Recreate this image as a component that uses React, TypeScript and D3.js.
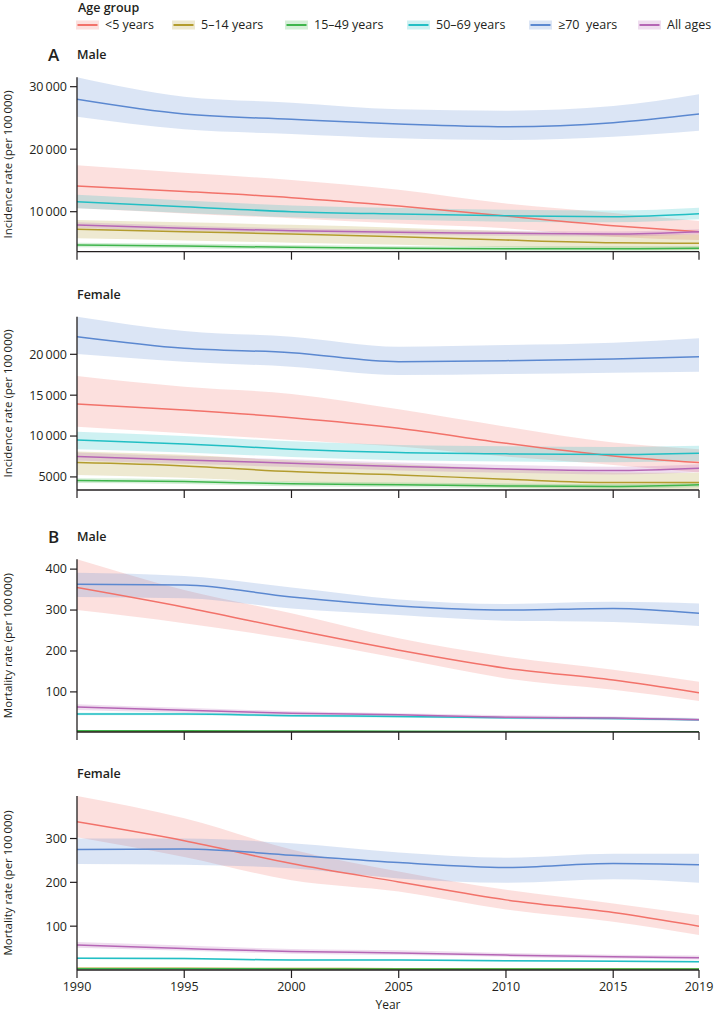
import React from "react";
import * as d3 from "d3";

const years = [1990, 1995, 2000, 2005, 2010, 2015, 2019];
const xTicks = [1990, 1995, 2000, 2005, 2010, 2015, 2019];
const groups = ["<5 years", "5–14 years", "15–49 years", "50–69 years", "≥70  years", "All ages"];
const colors = ["#f2726a", "#b39c2e", "#3fb54c", "#22bfc4", "#5b88d0", "#b566b5"];

// Incidence, male
const incMale = [
  { g: 0, mean: [14110, 13250, 12250, 10900, 9310, 7760, 6800], lo: [10540, 9730, 8940, 8100, 7340, 6000, 5470], hi: [17420, 16240, 15070, 13500, 11300, 9800, 8510] },
  { g: 1, mean: [7180, 6800, 6430, 6000, 5470, 5040, 4940], lo: [5750, 5400, 5050, 4700, 4300, 4000, 3900], hi: [8670, 8300, 7900, 7450, 6900, 6450, 6350] },
  { g: 2, mean: [4670, 4510, 4300, 4140, 4080, 4080, 4140], lo: [4300, 4150, 3950, 3800, 3740, 3740, 3800], hi: [5050, 4900, 4680, 4520, 4460, 4460, 4520] },
  { g: 3, mean: [11600, 10800, 10000, 9630, 9360, 9200, 9680], lo: [10550, 9800, 9100, 8700, 8400, 8300, 8780], hi: [12700, 11800, 11000, 10600, 10300, 10200, 10640] },
  { g: 4, mean: [28000, 25630, 24780, 24030, 23600, 24240, 25630], lo: [25200, 23180, 22430, 21740, 21470, 22000, 22960], hi: [31500, 28400, 27440, 26380, 26160, 26900, 28780] },
  { g: 5, mean: [7870, 7340, 6960, 6700, 6540, 6430, 6800], lo: [7450, 6950, 6580, 6320, 6150, 6050, 6400], hi: [8300, 7750, 7350, 7100, 6950, 6850, 7200] },
];

// Incidence, female
const incFemale = [
  { g: 0, mean: [13930, 13190, 12250, 10960, 9120, 7570, 6750], lo: [11150, 10350, 9530, 8710, 7490, 6470, 5530], hi: [17350, 16040, 15150, 13280, 11150, 9200, 8390] },
  { g: 1, mean: [6750, 6350, 5650, 5250, 4720, 4310, 4310], lo: [5250, 4900, 4350, 4050, 3700, 3500, 3500], hi: [8100, 7700, 7000, 6550, 6000, 5550, 5500] },
  { g: 2, mean: [4550, 4430, 4150, 4030, 3900, 3820, 4030], lo: [4250, 4130, 3850, 3730, 3600, 3550, 3730], hi: [4850, 4730, 4450, 4330, 4200, 4120, 4330] },
  { g: 3, mean: [9530, 9040, 8390, 7980, 7820, 7730, 7900], lo: [8390, 8000, 7450, 7050, 6900, 6800, 6950], hi: [10540, 10000, 9350, 8900, 8750, 8650, 8800] },
  { g: 4, mean: [22150, 20730, 20200, 19100, 19220, 19430, 19710], lo: [20040, 19100, 18480, 17470, 17590, 17750, 17870], hi: [24600, 22850, 22150, 20930, 21140, 21420, 21960] },
  { g: 5, mean: [7490, 7080, 6680, 6270, 5980, 5780, 6070], lo: [7000, 6600, 6200, 5800, 5500, 5300, 5600], hi: [8000, 7550, 7150, 6750, 6450, 6250, 6550] },
];

// Mortality, male
const morMale = [
  { g: 0, mean: [355, 307, 253, 202, 158, 129, 98], lo: [300, 268, 229, 182, 133, 105, 78], hi: [424, 349, 292, 231, 186, 154, 125] },
  { g: 1, mean: [3, 3, 2.5, 2.5, 2, 2, 2], lo: [2.2, 2.2, 2, 2, 2, 2, 2], hi: [3.8, 3.8, 3.3, 3.2, 2.8, 2.7, 2.7] },
  { g: 2, mean: [5, 5, 4.5, 4, 3, 2.5, 2.5], lo: [4, 4, 3.6, 3.2, 2.4, 2, 2], hi: [6, 6, 5.4, 4.8, 3.6, 3, 3] },
  { g: 3, mean: [46, 46, 42, 40, 37, 35, 32], lo: [43, 43, 39, 37, 34, 32, 29], hi: [49, 49, 45, 43, 40, 38, 35] },
  { g: 4, mean: [363, 361, 332, 310, 300, 304, 292], lo: [332, 329, 304, 288, 274, 271, 261], hi: [391, 383, 355, 326, 315, 320, 316] },
  { g: 5, mean: [63, 55, 48, 44, 38, 36, 32], lo: [56, 49, 43, 39, 34, 32, 29], hi: [70, 61, 53, 48, 43, 40, 36] },
];

// Mortality, female
const morFemale = [
  { g: 0, mean: [338, 295, 243, 201, 160, 131, 100], lo: [303, 258, 205, 179, 138, 110, 80], hi: [397, 346, 275, 225, 183, 152, 125] },
  { g: 1, mean: [4, 4, 3.5, 3, 2.5, 2, 2], lo: [3.2, 3.2, 2.8, 2.3, 1.8, 1.4, 1.4], hi: [4.8, 4.8, 4.2, 3.7, 3.2, 2.6, 2.6] },
  { g: 2, mean: [3, 3, 2.5, 2, 2, 2, 2], lo: [2.4, 2.4, 2, 1.6, 1.6, 1.6, 1.6], hi: [3.6, 3.6, 3, 2.4, 2.4, 2.4, 2.4] },
  { g: 3, mean: [27, 26, 23, 23, 21, 20, 19], lo: [25, 24, 21, 21, 19, 18, 17], hi: [29, 28, 25, 25, 23, 22, 21] },
  { g: 4, mean: [275, 276, 262, 245, 234, 243, 240], lo: [242, 240, 232, 209, 199, 207, 199], hi: [300, 300, 289, 268, 256, 265, 265] },
  { g: 5, mean: [57, 49, 42, 39, 34, 30, 28], lo: [51, 44, 37, 34, 30, 26, 24], hi: [64, 56, 48, 45, 39, 35, 33] },
];

const panels = [
  { letter: "A", title: "Male", data: incMale, domain: [3600, 31500], top: 77.3, bottom: 251.7, ticks: [10000, 20000, 30000], ylabel: "Incidence rate (per 100\u2009000)", xlabels: false },
  { letter: "", title: "Female", data: incFemale, domain: [3400, 24600], top: 316.7, bottom: 490, ticks: [5000, 10000, 15000, 20000], ylabel: "Incidence rate (per 100\u2009000)", xlabels: false },
  { letter: "B", title: "Male", data: morMale, domain: [2, 424], top: 559.3, bottom: 732, ticks: [100, 200, 300, 400], ylabel: "Mortality rate (per 100\u2009000)", xlabels: false },
  { letter: "", title: "Female", data: morFemale, domain: [0, 397], top: 796, bottom: 970, ticks: [100, 200, 300], ylabel: "Mortality rate (per 100\u2009000)", xlabels: true },
];

const FONT = "'Open Sans', 'Noto Sans', sans-serif";
const AXIS = "#231f20";
const X0 = 77;
const X1 = 699;

function fmt(v: number) {
  if (v >= 10000) {
    const s = String(v);
    return s.slice(0, s.length - 3) + "\u2009" + s.slice(s.length - 3);
  }
  return String(v);
}

function Panel({ p }: { p: any }) {
  const x = d3.scaleLinear().domain([1990, 2019]).range([X0, X1]);
  const y = d3.scaleLinear().domain(p.domain).range([p.bottom, p.top]);
  const clipId = "clip" + Math.round(p.top);
  const area = (s: any) =>
    d3
      .area<number>()
      .x((_, i) => x(years[i]))
      .y0((_, i) => y(s.lo[i]))
      .y1((_, i) => y(s.hi[i]))
      .curve(d3.curveMonotoneX)(s.mean) || "";
  const line = (s: any) =>
    d3
      .line<number>()
      .x((_, i) => x(years[i]))
      .y((d) => y(d))
      .curve(d3.curveMonotoneX)(s.mean) || "";
  const midY = (p.top + p.bottom) / 2;
  return (
    <g>
      <defs>
        <clipPath id={clipId}>
          <rect x={X0} y={p.top - 2} width={X1 - X0} height={p.bottom - p.top + 2} />
        </clipPath>
      </defs>
      {p.letter && (
        <text x={48} y={p.top - 16} fontFamily={FONT} fontSize={17} fontWeight={600} fill={AXIS}>
          {p.letter}
        </text>
      )}
      <text x={X0} y={p.top - 18} fontFamily={FONT} fontSize={12.5} fontWeight={600} fill={AXIS}>
        {p.title}
      </text>
      <g clipPath={`url(#${clipId})`}>
        {p.data.map((s: any) => (
          <path key={"a" + s.g} d={area(s)} fill={colors[s.g]} fillOpacity={0.22} stroke="none" />
        ))}
        {p.data.map((s: any) => (
          <path key={"l" + s.g} d={line(s)} fill="none" stroke={colors[s.g]} strokeWidth={1.5} />
        ))}
      </g>
      <line x1={X0} x2={X0} y1={p.top} y2={p.bottom} stroke={AXIS} strokeWidth={1.3} />
      <line x1={X0} x2={X1} y1={p.bottom} y2={p.bottom} stroke={AXIS} strokeWidth={1.3} />
      {p.ticks.map((t: number) => (
        <g key={t}>
          <line x1={X0 - 7} x2={X0} y1={y(t)} y2={y(t)} stroke={AXIS} strokeWidth={1.2} />
          <text x={X0 - 10} y={y(t)} dy="0.35em" textAnchor="end" fontFamily={FONT} fontSize={12.5} fill={AXIS}>
            {fmt(t)}
          </text>
        </g>
      ))}
      {xTicks.map((t) => (
        <g key={t}>
          <line x1={x(t)} x2={x(t)} y1={p.bottom} y2={p.bottom + 8} stroke={AXIS} strokeWidth={1.2} />
          {p.xlabels && (
            <text x={x(t)} y={p.bottom + 17} dy="0.35em" textAnchor="middle" fontFamily={FONT} fontSize={12.5} fill={AXIS}>
              {t}
            </text>
          )}
        </g>
      ))}
      <text
        transform={`translate(${8},${midY}) rotate(-90)`}
        dy="0.35em"
        textAnchor="middle"
        fontFamily={FONT}
        fontSize={11.5}
        fill={AXIS}
      >
        {p.ylabel}
      </text>
    </g>
  );
}

const legendX = [76, 172, 285, 407, 529, 638];

export default function App() {
  return (
    <svg
      width={714}
      height={1016}
      style={{ position: "absolute", left: 0, top: 0, background: "#fff" }}
    >
      <text x={78} y={12} fontFamily={FONT} fontSize={12.5} fontWeight={600} fill={AXIS}>
        Age group
      </text>
      {groups.map((g, i) => (
        <g key={g} transform={`translate(${legendX[i]},${25})`}>
          <rect x={0} y={-4.5} width={23} height={9} fill={colors[i]} fillOpacity={0.22} />
          <line x1={1.5} x2={21.5} y1={0} y2={0} stroke={colors[i]} strokeWidth={2} />
          <text x={29} y={0} dy="0.35em" fontFamily={FONT} fontSize={12.5} fill={AXIS} style={{ whiteSpace: "pre" }}>
            {g}
          </text>
        </g>
      ))}
      {panels.map((p, i) => (
        <Panel key={i} p={p} />
      ))}
      <text x={388} y={1009} textAnchor="middle" fontFamily={FONT} fontSize={12} fill={AXIS}>
        Year
      </text>
    </svg>
  );
}
